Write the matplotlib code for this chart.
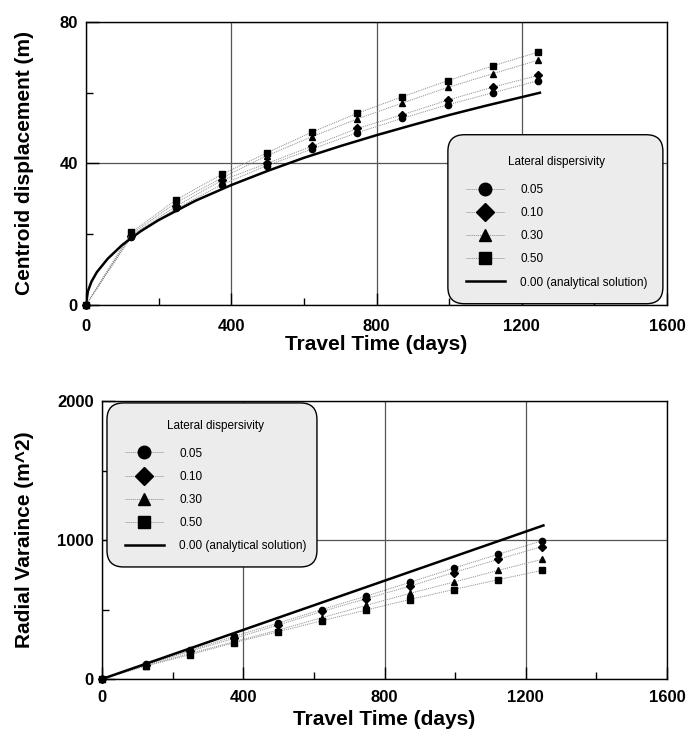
import matplotlib
matplotlib.use("Agg")
import matplotlib.pyplot as plt
from matplotlib.patches import FancyBboxPatch

# travel times of the simulated snapshots (days)
times = [0, 124.5, 249, 373.5, 498, 622.5, 747, 871.5, 996, 1120.5, 1245]
disp_labels = ["0.05", "0.10", "0.30", "0.50"]
markers = ["o", "D", "^", "s"]

# centroid displacement (m)
cent_005 = [0, 19.2, 27.3, 34.0, 39.4, 44.1, 48.7, 52.8, 56.6, 60.0, 63.4]
cent_010 = [0, 19.6, 28.0, 35.2, 40.0, 44.9, 49.9, 53.8, 57.9, 61.6, 64.9]
cent_030 = [0, 20.0, 29.0, 35.9, 42.2, 47.6, 52.6, 57.1, 61.5, 65.4, 69.2]
cent_050 = [0, 20.5, 29.8, 36.9, 43.0, 48.9, 54.2, 58.9, 63.4, 67.6, 71.5]

# analytical centroid curve
ana_t = [0, 5, 15, 30, 60, 100, 150, 200, 300, 400, 500, 600, 700, 800, 900, 1000, 1100, 1250]
ana_cent = [0, 3.8, 6.6, 9.3, 13.1, 17.0, 20.8, 24.0, 29.4, 33.9, 37.9, 41.6, 44.9, 48.0, 50.9, 53.7, 56.3, 60.0]

# radial variance (m^2)
var_005 = [0, 106, 206, 307, 402, 500, 596, 695, 798, 896, 994]
var_010 = [0, 102, 199, 292, 388, 486, 577, 668, 766, 860, 953]
var_030 = [0, 97, 184, 268, 352, 441, 529, 616, 697, 781, 860]
var_050 = [0, 94, 175, 261, 340, 419, 496, 572, 644, 714, 781]

ana_vt = [0, 1250]
ana_var = [0, 1105]

FONT = ["Liberation Sans", "DejaVu Sans"]

fig = plt.figure(figsize=(6.88, 7.31), dpi=100)
ax1 = fig.add_axes([0.125, 0.5828, 0.8445, 0.3871])
ax2 = fig.add_axes([0.1483, 0.0711, 0.8212, 0.3803])


def style_axes(ax, ymax, ymajor, yminor, ylabel, xpad, ylabx, xlaby):
    ax.set_xlim(0, 1600)
    ax.set_ylim(0, ymax)
    ax.set_xticks([0, 400, 800, 1200, 1600])
    ax.set_xticks([200, 600, 1000, 1400], minor=True)
    ax.set_yticks(ymajor)
    ax.set_yticks(yminor, minor=True)
    ax.tick_params(which="major", direction="in", length=9, width=1, pad=xpad, axis="x")
    ax.tick_params(which="major", direction="in", length=9, width=1, pad=6, axis="y")
    ax.tick_params(which="minor", direction="in", length=5, width=1)
    for lab in ax.get_xticklabels() + ax.get_yticklabels():
        lab.set_family(FONT)
        lab.set_fontweight("bold")
        lab.set_fontsize(12)
    ax.grid(True, which="major", color="#555555", lw=0.9)
    for sp in ax.spines.values():
        sp.set_linewidth(1.0)
    ax.set_xlabel("Travel Time (days)", family=FONT, fontweight="bold", fontsize=15)
    ax.set_ylabel(ylabel, family=FONT, fontweight="bold", fontsize=15)
    ax.xaxis.set_label_coords(0.5, xlaby)
    ax.yaxis.set_label_coords(ylabx, 0.5)


def draw(ax, series, at, av):
    for ys, m, lab in zip(series, markers, disp_labels):
        ax.plot(times, ys, linestyle=(0, (1, 1)), lw=0.7, color="#8a8a8a",
                marker=m, ms=4.5, mfc="black", mec="black", label=lab, zorder=3,
                clip_on=False)
    ax.plot(at, av, color="black", lw=1.8, label="0.00 (analytical solution)", zorder=4)


def add_legend(ax, box, anchor):
    x0, y0, w, h = box
    patch = FancyBboxPatch((x0, y0), w, h, boxstyle="round,pad=0,rounding_size=0.024",
                           mutation_aspect=6.88 / 7.31, transform=fig.transFigure,
                           facecolor="#ececec", edgecolor="black", lw=1.0, zorder=5)
    fig.patches.append(patch)
    handles, labels = ax.get_legend_handles_labels()
    leg = fig.legend(handles, labels, loc="upper left", bbox_to_anchor=anchor,
                     frameon=False, borderpad=0, borderaxespad=0, markerscale=2.0,
                     handlelength=3.3, handletextpad=1.3, labelspacing=0.95,
                     title="Lateral dispersivity",
                     prop={"family": FONT, "size": 8.5},
                     title_fontproperties={"family": FONT, "size": 8.5})
    leg._legend_box.sep = 11
    leg.set_zorder(6)


draw(ax1, [cent_005, cent_010, cent_030, cent_050], ana_t, ana_cent)
style_axes(ax1, 80, [0, 40, 80], [20, 60], "Centroid displacement (m)", 10, -0.09, -0.105)

draw(ax2, [var_005, var_010, var_030, var_050], ana_vt, ana_var)
style_axes(ax2, 2000, [0, 1000, 2000], [500, 1500], "Radial Varaince (m^2)", 8, -0.12, -0.112)

add_legend(ax1, (0.651, 0.5845, 0.3125, 0.2312), (0.677, 0.786))
add_legend(ax2, (0.1555, 0.2244, 0.3052, 0.2244), (0.1817, 0.425))

fig.savefig("out.png", dpi=100)
